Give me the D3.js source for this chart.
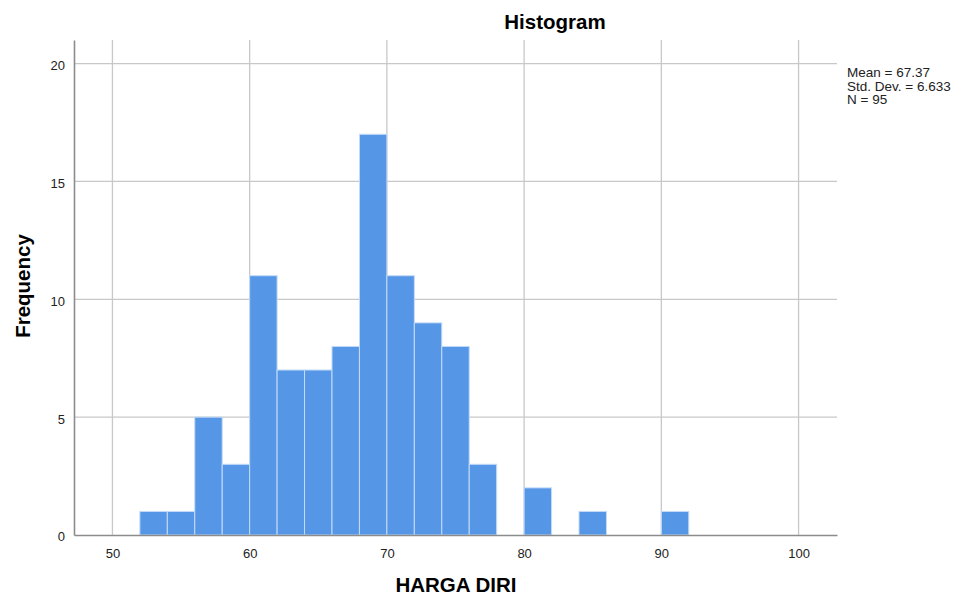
<!DOCTYPE html>
<html>
<head>
<meta charset="utf-8">
<script src="https://cdn.jsdelivr.net/npm/d3@7"></script>
<style>
  body { margin: 0; background: #fff; }
  text { font-family: "Liberation Sans", Arial, sans-serif; }
</style>
</head>
<body>
<svg id="chart" width="960" height="597"></svg>
<script>
// bin lower edges (width 2) and counts for HARGA DIRI
const binStarts = [52, 54, 56, 58, 60, 62, 64, 66, 68, 70, 72, 74, 76, 78, 80, 82, 84, 86, 88, 90]
const counts    = [ 1,  1,  5,  3, 11,  7,  7,  8, 17, 11,  9,  8,  3,  0,  2,  0,  1,  0,  0,  1]
const binWidth = 2
const xTicks = [50, 60, 70, 80, 90, 100]
const yTicks = [0, 5, 10, 15, 20]
const statsLines = ["Mean = 67.37", "Std. Dev. = 6.633", "N = 95"]

const bins = binStarts.map((b, i) => ({x0: b, x1: b + binWidth, n: counts[i]}))

let margin = {top: 40, right: 123, bottom: 62, left: 74}
let width = 960 - margin.left - margin.right,
    height = 597 - margin.top - margin.bottom

let svg = d3.select("#chart")
let g = svg.append("g").attr("transform", `translate(${margin.left},${margin.top})`)

let x = d3.scaleLinear().domain([47.2, 102.8]).range([0, width])
let y = d3.scaleLinear().domain([0, 21]).range([height, 0])

// grid
g.selectAll(".vgrid").data(xTicks).join("line")
    .attr("class", "vgrid")
    .attr("x1", d => x(d)).attr("x2", d => x(d))
    .attr("y1", 0).attr("y2", height)
    .attr("stroke", "#c8c8c8").attr("stroke-width", 1.3)
g.selectAll(".hgrid").data(yTicks.filter(d => d > 0)).join("line")
    .attr("class", "hgrid")
    .attr("x1", 0).attr("x2", width)
    .attr("y1", d => y(d)).attr("y2", d => y(d))
    .attr("stroke", "#c8c8c8").attr("stroke-width", 1.3)

// bars
g.selectAll(".bar").data(bins.filter(d => d.n > 0)).join("rect")
    .attr("class", "bar")
    .attr("x", d => x(d.x0))
    .attr("width", d => x(d.x1) - x(d.x0))
    .attr("y", d => y(d.n))
    .attr("height", d => y(0) - y(d.n))
    .attr("fill", "#5596e6")
    .attr("stroke", "#c4dbf7")
    .attr("stroke-width", 1)

// axes
let xAxis = g.append("g").attr("transform", `translate(0,${height})`)
    .call(d3.axisBottom(x).tickValues(xTicks).tickSize(0).tickPadding(14))
let yAxis = g.append("g")
    .call(d3.axisLeft(y).tickValues(yTicks).tickSize(0).tickPadding(9))
;[xAxis, yAxis].forEach(a => {
    a.select(".domain").attr("stroke", "#8c8c8c").attr("stroke-width", 1.6)
    a.selectAll("text").attr("font-size", "13px").attr("fill", "#222")
        .style("font-family", "'Liberation Sans', Arial, sans-serif")
})
yAxis.selectAll("text").attr("dy", "0.45em")

// titles
svg.append("text")
    .attr("x", 555).attr("y", 29)
    .attr("text-anchor", "middle")
    .attr("font-size", "20.5px").attr("font-weight", "bold")
    .text("Histogram")

svg.append("text")
    .attr("transform", `translate(30,286) rotate(-90)`)
    .attr("text-anchor", "middle")
    .attr("font-size", "20.5px").attr("font-weight", "bold")
    .text("Frequency")

svg.append("text")
    .attr("x", 456).attr("y", 592)
    .attr("text-anchor", "middle")
    .attr("font-size", "20.5px").attr("font-weight", "bold")
    .text("HARGA DIRI")

// stats box text
svg.selectAll(".stats").data(statsLines).join("text")
    .attr("class", "stats")
    .attr("x", 847)
    .attr("y", (d, i) => 77 + i * 13.5)
    .attr("font-size", "13.5px").attr("fill", "#222")
    .text(d => d)
</script>
</body>
</html>
